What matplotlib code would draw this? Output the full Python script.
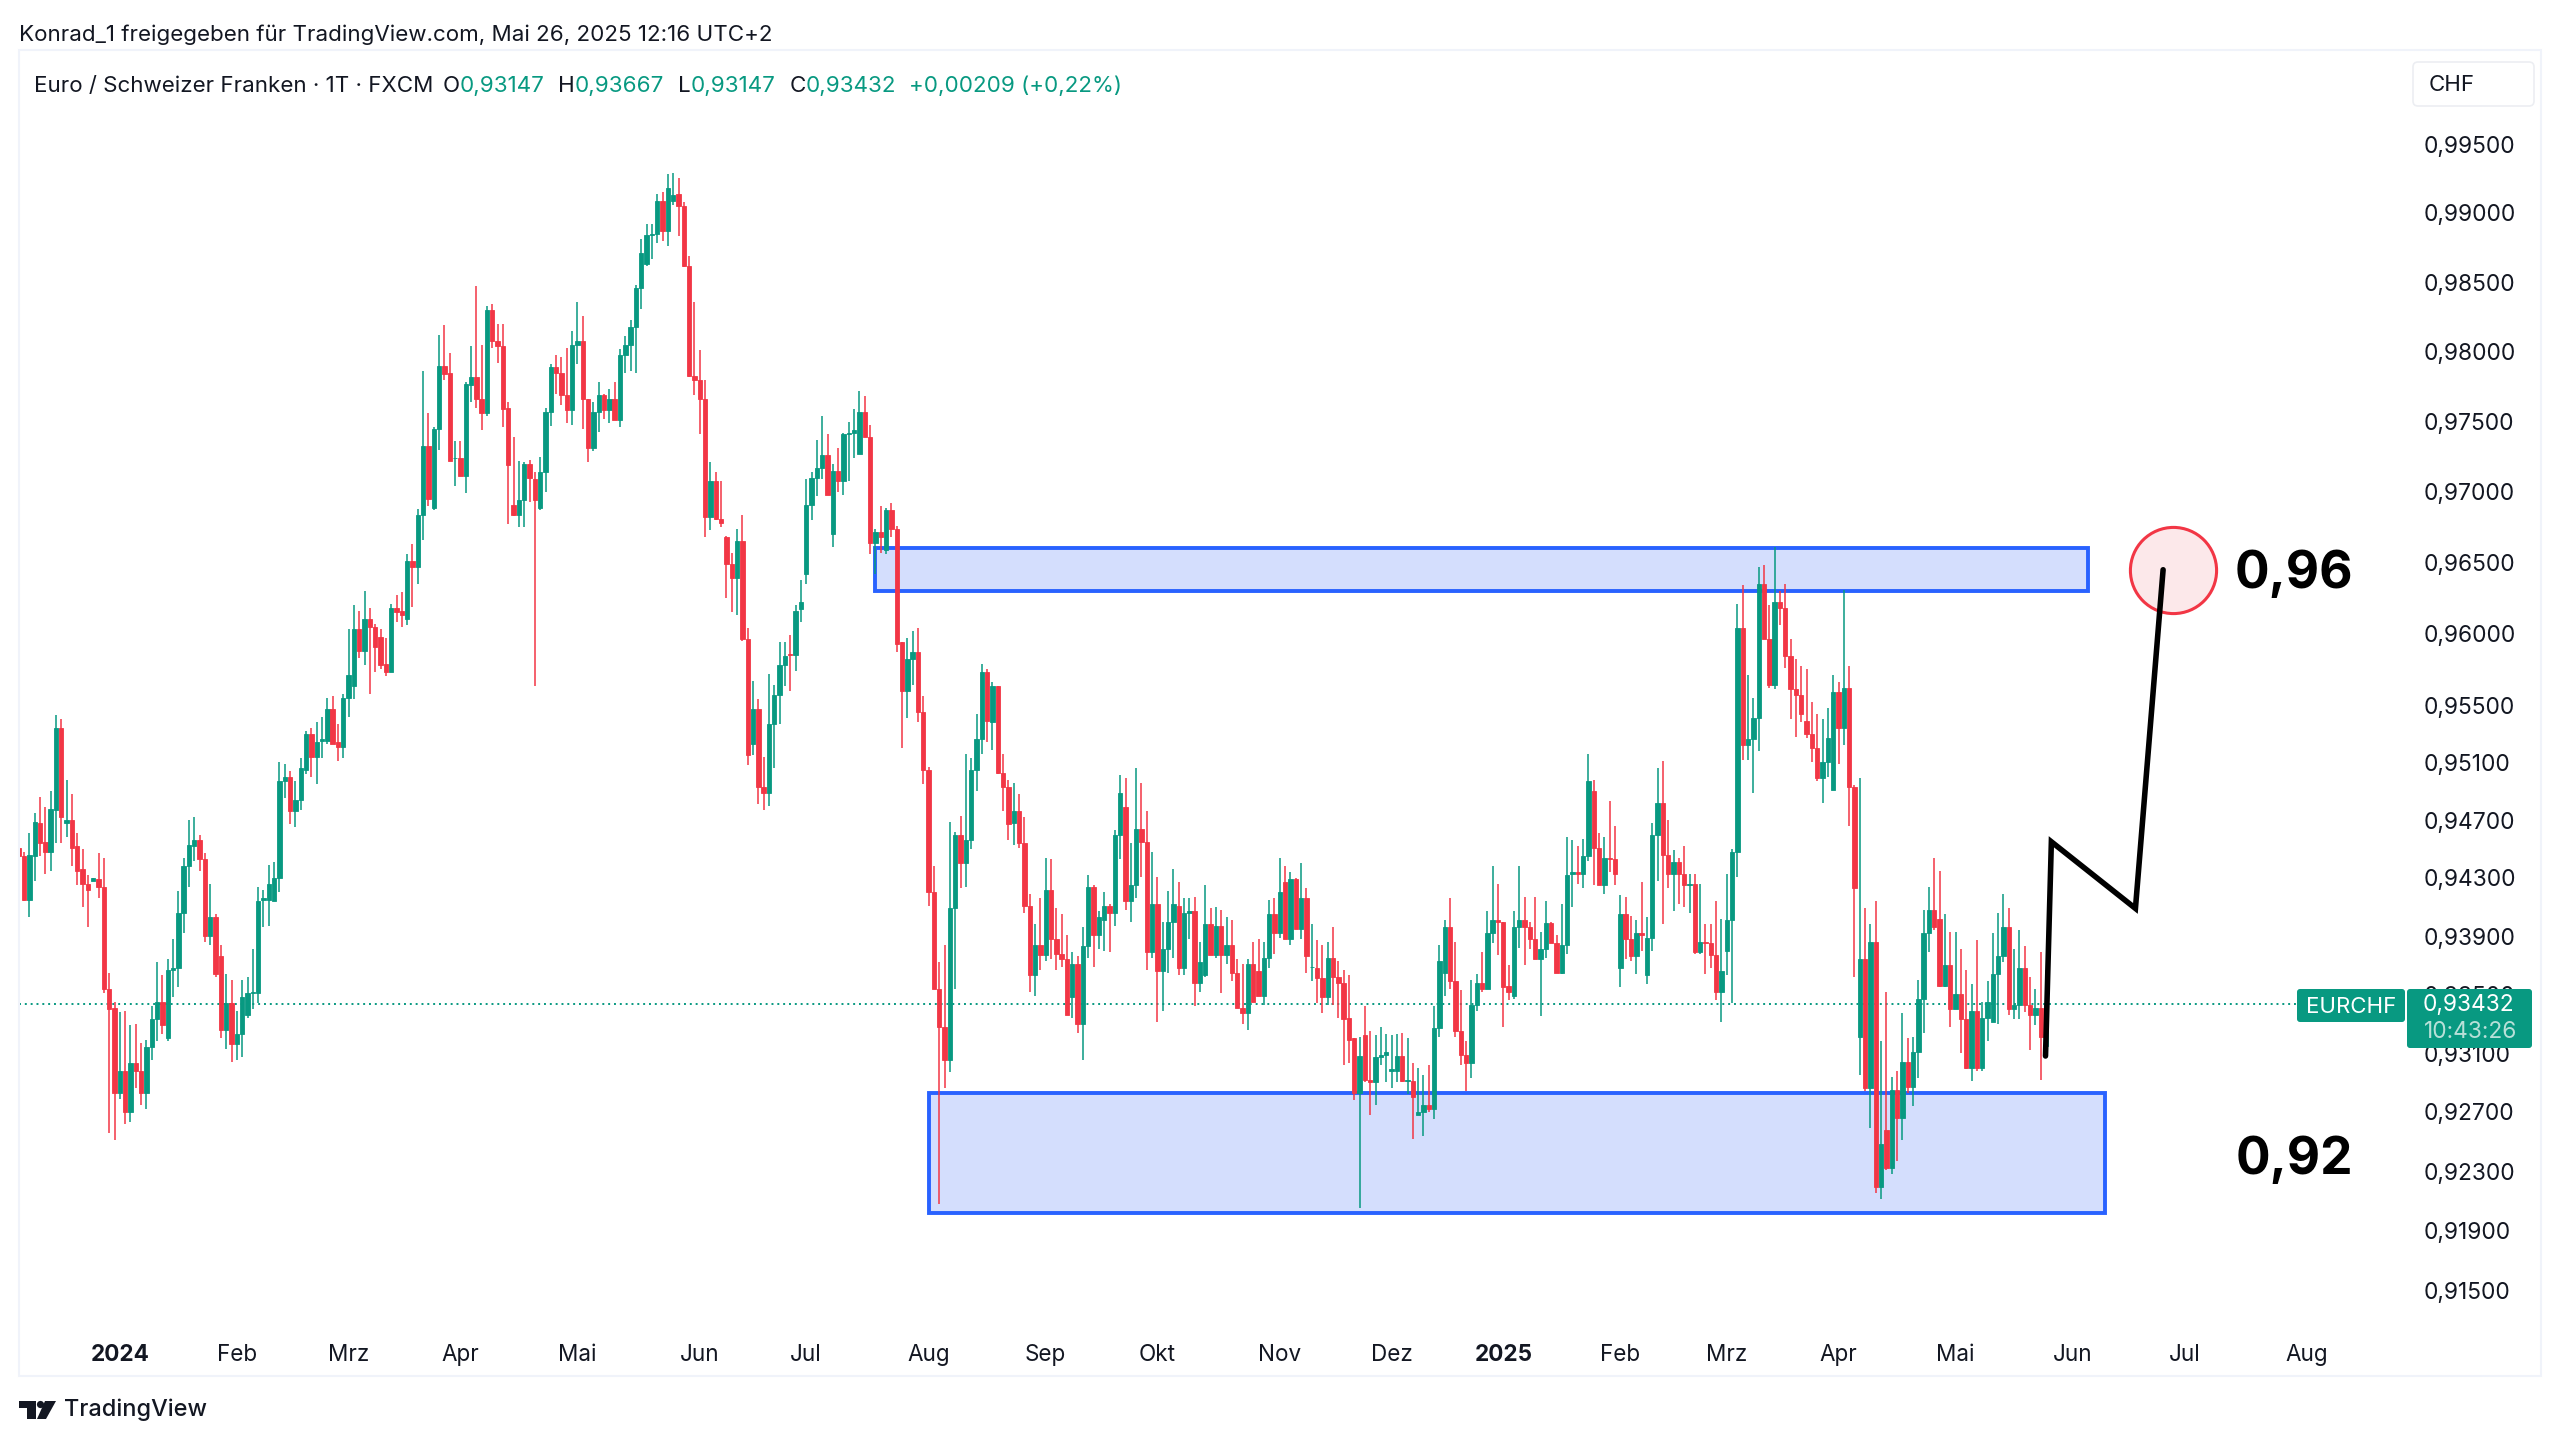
import numpy as np
import matplotlib
matplotlib.use('Agg')
import matplotlib.pyplot as plt
from matplotlib.patches import FancyBboxPatch, Rectangle, Polygon, Circle
from matplotlib.transforms import IdentityTransform

# daily bars as (open, high, low, close) in 1/10000 CHF
bars_dez_feb = [
(9451,9455,9433,9445),(9445,9448,9414,9415),(9415,9461,9403,9446),(9445,9475,9428,9469),(9468,9486,9445,9454),
(9455,9479,9433,9448),(9448,9490,9435,9478),(9477,9543,9454,9534),(9534,9540,9454,9472),(9468,9498,9458,9470),
(9470,9488,9438,9451),(9452,9461,9425,9435),(9436,9450,9410,9426),(9426,9432,9396,9422),(9428,9430,9428,9430),
(9429,9447,9416,9424),(9424,9444,9351,9354),(9354,9365,9256,9340),(9341,9345,9251,9283),(9283,9338,9279,9298),
(9298,9339,9262,9270),(9270,9329,9263,9303),(9303,9330,9286,9298),(9298,9317,9275,9283),(9283,9319,9272,9314),
(9314,9342,9305,9333),(9333,9372,9318,9345),(9345,9363,9323,9329),(9320,9374,9318,9367),(9367,9388,9348,9368),
(9368,9421,9355,9406),(9406,9444,9392,9438),(9438,9470,9424,9453),(9452,9472,9442,9456),(9456,9460,9435,9443),
(9443,9447,9386,9390),(9390,9426,9384,9403),(9403,9405,9362,9364),(9376,9384,9320,9326),(9326,9364,9313,9344),
(9344,9360,9304,9316),(9316,9339,9305,9323),(9323,9360,9307,9348),(9336,9362,9334,9351),(9351,9381,9340,9352),
(9351,9424,9344,9414),(9415,9422,9396,9416),(9415,9439,9397,9426),(9414,9441,9414,9430),
]
bars_feb_apr = [
(9430,9510,9420,9497),(9497,9509,9485,9500),(9500,9504,9467,9476),(9476,9497,9465,9484),(9484,9513,9477,9506),
(9505,9532,9502,9530),(9530,9534,9500,9514),(9514,9538,9495,9524),(9525,9542,9513,9526),(9525,9555,9523,9547),
(9547,9556,9523,9523),(9524,9537,9511,9521),(9521,9558,9513,9555),(9555,9603,9542,9571),(9563,9620,9554,9603),
(9603,9616,9583,9588),(9588,9630,9578,9610),(9610,9618,9558,9605),(9605,9607,9573,9591),(9598,9603,9575,9578),
(9579,9597,9570,9573),(9573,9621,9573,9618),(9618,9627,9608,9615),(9616,9629,9605,9613),(9610,9656,9606,9651),
(9651,9663,9619,9647),(9647,9688,9635,9684),(9684,9786,9666,9733),(9733,9756,9690,9695),(9689,9746,9687,9745),
(9745,9812,9730,9790),(9790,9819,9780,9784),(9785,9799,9722,9722),(9724,9736,9704,9724),(9724,9736,9711,9711),
(9711,9778,9699,9777),(9776,9804,9764,9782),(9782,9847,9760,9766),(9766,9805,9744,9756),(9756,9833,9754,9830),
(9830,9834,9803,9808),(9808,9820,9792,9804),(9804,9820,9746,9759),(9760,9764,9677,9719),(9691,9739,9683,9684),
(9684,9722,9675,9694),(9694,9721,9675,9720),(9720,9723,9693,9710),
]
bars_apr_jun = [
(9709,9714,9563,9694),(9689,9725,9687,9714),(9714,9760,9700,9757),(9757,9791,9747,9789),(9789,9798,9770,9785),
(9785,9796,9762,9769),(9769,9803,9749,9758),(9758,9815,9748,9805),(9805,9836,9791,9808),(9808,9826,9745,9766),
(9766,9766,9721,9731),(9731,9764,9729,9757),(9757,9778,9743,9769),(9769,9770,9752,9758),(9758,9773,9749,9766),
(9766,9778,9751,9751),(9751,9802,9746,9798),(9798,9811,9785,9805),(9805,9823,9786,9818),(9818,9848,9785,9846),
(9846,9881,9831,9871),(9863,9892,9862,9884),(9884,9892,9867,9885),(9885,9914,9878,9909),(9909,9915,9880,9887),
(9887,9928,9876,9918),(9909,9929,9906,9913),(9914,9925,9883,9905),(9905,9908,9861,9862),(9862,9869,9782,9783),
(9783,9836,9769,9780),(9780,9801,9741,9766),(9766,9780,9668,9682),(9682,9721,9673,9708),(9708,9714,9680,9681),
(9681,9708,9675,9678),(9668,9669,9625,9649),(9649,9657,9615,9639),(9639,9674,9613,9665),(9665,9684,9595,9596),
(9596,9604,9508,9515),(9523,9567,9515,9547),(9547,9554,9481,9493),(9493,9514,9477,9489),(9489,9572,9480,9537),
(9537,9564,9506,9557),(9557,9594,9537,9578),(9578,9594,9563,9584),
]
bars_jun_aug = [
(9586,9599,9560,9585),(9585,9620,9574,9616),(9617,9638,9608,9622),(9642,9709,9635,9691),(9691,9714,9680,9710),
(9710,9737,9697,9717),(9717,9754,9709,9726),(9726,9741,9698,9698),(9670,9720,9661,9715),(9715,9731,9700,9708),
(9708,9742,9698,9741),(9741,9750,9708,9742),(9742,9759,9724,9744),(9727,9772,9727,9757),(9757,9768,9739,9739),
(9739,9748,9656,9664),(9664,9674,9642,9672),(9672,9690,9657,9668),(9659,9689,9656,9687),(9687,9692,9668,9674),
(9674,9676,9587,9593),(9594,9594,9520,9560),(9560,9597,9541,9582),(9582,9602,9564,9587),(9587,9604,9538,9545),
(9545,9556,9495,9505),(9505,9507,9411,9420),(9420,9438,9354,9354),(9354,9372,9208,9328),(9328,9384,9286,9305),
(9305,9469,9297,9409),(9409,9462,9354,9460),(9460,9473,9423,9440),(9440,9516,9424,9456),(9456,9513,9450,9505),
(9505,9544,9490,9526),(9526,9579,9516,9573),(9573,9575,9524,9539),(9538,9566,9519,9563),(9563,9563,9502,9503),
(9503,9516,9476,9493),(9493,9498,9456,9467),(9468,9496,9453,9476),(9476,9488,9451,9454),(9454,9472,9406,9411),
(9411,9419,9352,9363),(9363,9398,9349,9384),
]
bars_aug_okt = [
(9384,9416,9367,9377),(9377,9444,9373,9422),(9422,9443,9374,9388),(9388,9409,9367,9378),(9378,9405,9369,9374),
(9374,9391,9336,9336),(9348,9379,9334,9371),(9371,9376,9324,9330),(9330,9396,9305,9383),(9383,9432,9375,9424),
(9424,9425,9369,9391),(9391,9407,9381,9403),(9401,9420,9380,9411),(9411,9412,9379,9406),(9406,9463,9397,9460),
(9460,9501,9443,9489),(9479,9499,9408,9414),(9414,9454,9400,9425),(9425,9506,9416,9464),(9464,9496,9431,9455),
(9455,9476,9367,9379),(9379,9448,9375,9412),(9412,9431,9331,9366),(9366,9400,9339,9381),(9381,9421,9365,9400),
(9400,9436,9375,9412),(9411,9427,9363,9368),(9368,9416,9363,9406),(9406,9416,9388,9407),(9407,9417,9342,9358),
(9358,9386,9352,9372),(9363,9425,9362,9398),(9398,9409,9377,9377),(9377,9410,9375,9397),(9397,9408,9351,9377),
(9377,9403,9371,9384),(9384,9401,9359,9365),(9365,9374,9341,9341),(9341,9371,9330,9337),(9337,9374,9326,9371),
(9371,9386,9345,9345),(9366,9388,9349,9349),(9349,9386,9343,9375),(9375,9415,9368,9405),(9405,9416,9378,9392),
(9392,9444,9389,9420),(9427,9438,9388,9388),(9388,9434,9384,9429),(9429,9430,9395,9395),
]
bars_nov_jan = [
(9395,9440,9388,9416),(9416,9423,9365,9376),(9369,9398,9359,9369),(9368,9387,9344,9361),(9361,9384,9337,9348),
(9348,9386,9343,9375),(9375,9396,9343,9362),(9362,9373,9334,9358),(9358,9367,9302,9333),(9334,9363,9303,9319),
(9320,9320,9278,9283),(9283,9321,9205,9308),(9322,9342,9290,9292),(9292,9325,9268,9290),(9290,9322,9275,9307),
(9307,9328,9302,9309),(9309,9323,9290,9311),(9298,9322,9286,9299),(9298,9323,9290,9308),(9308,9324,9290,9291),
(9291,9320,9282,9292),(9291,9303,9252,9280),(9268,9300,9268,9270),(9270,9295,9254,9275),(9275,9302,9270,9272),
(9272,9342,9265,9327),(9327,9384,9321,9373),(9365,9401,9349,9396),(9396,9416,9354,9359),(9359,9386,9321,9325),
(9325,9353,9302,9309),(9309,9318,9284,9303),(9303,9360,9293,9343),(9343,9364,9339,9358),(9358,9379,9352,9354),
(9354,9407,9354,9392),(9392,9438,9385,9401),(9401,9426,9377,9400),(9400,9400,9328,9355),(9356,9370,9346,9352),
(9349,9407,9347,9396),(9396,9438,9382,9401),(9401,9417,9370,9396),(9396,9400,9381,9388),(9388,9417,9374,9374),
(9374,9393,9335,9381),(9381,9414,9375,9399),(9399,9400,9385,9385),
]
bars_jan_mrz = [
(9385,9391,9365,9365),(9365,9412,9364,9384),(9384,9458,9378,9432),(9433,9456,9410,9434),(9434,9452,9426,9433),
(9433,9457,9423,9445),(9445,9516,9442,9497),(9490,9498,9425,9451),(9451,9461,9425,9425),(9425,9458,9419,9444),
(9444,9483,9434,9443),(9443,9466,9425,9433),(9368,9418,9355,9405),(9405,9417,9374,9388),(9388,9404,9373,9376),
(9376,9401,9364,9392),(9392,9427,9380,9391),(9363,9403,9357,9389),(9389,9468,9380,9460),(9460,9506,9428,9482),
(9482,9511,9398,9446),(9446,9470,9423,9433),(9433,9449,9407,9441),(9441,9444,9412,9433),(9433,9452,9410,9425),
(9425,9433,9406,9426),(9426,9433,9378,9379),(9379,9426,9378,9386),(9386,9398,9364,9385),(9385,9398,9368,9377),
(9377,9414,9346,9352),(9352,9402,9331,9366),(9380,9433,9363,9401),(9401,9450,9344,9448),(9448,9621,9431,9604),
(9604,9634,9512,9522),(9522,9571,9512,9526),(9526,9555,9489,9541),(9541,9647,9518,9635),(9635,9648,9596,9596),
(9596,9620,9562,9564),(9564,9661,9561,9622),(9622,9630,9606,9618),(9618,9635,9576,9584),(9584,9596,9540,9561),
(9561,9582,9528,9557),(9557,9577,9538,9544),
]
bars_mrz_mai = [
(9539,9575,9527,9530),(9530,9552,9510,9520),(9520,9544,9497,9499),(9499,9540,9482,9510),(9510,9548,9500,9527),
(9491,9571,9491,9559),(9559,9566,9509,9534),(9534,9631,9522,9562),(9562,9577,9466,9493),(9493,9494,9362,9423),
(9321,9499,9295,9374),(9374,9409,9284,9286),(9286,9398,9259,9386),(9386,9414,9215,9219),(9219,9318,9211,9248),
(9258,9352,9231,9232),(9232,9294,9228,9285),(9285,9298,9237,9266),(9266,9337,9251,9304),(9304,9320,9283,9287),
(9287,9321,9274,9311),(9311,9360,9293,9347),(9347,9408,9324,9392),(9392,9424,9379,9408),(9408,9444,9394,9396),
(9402,9435,9355,9356),(9356,9405,9355,9370),(9370,9393,9328,9340),(9340,9393,9340,9350),(9350,9381,9310,9333),
(9333,9367,9299,9300),(9300,9357,9291,9339),(9339,9387,9298,9300),(9300,9345,9298,9334),(9334,9359,9318,9345),
(9331,9392,9331,9364),(9364,9406,9330,9376),(9376,9419,9372,9396),(9396,9409,9336,9340),(9340,9381,9333,9343),
(9343,9394,9333,9368),(9368,9383,9338,9343),(9343,9362,9312,9336),(9336,9354,9329,9341),(9341,9379,9292,9321),
(9315,9367,9315,9343),
]

month_pos = [19, 41, 62, 83, 105, 128, 148, 171, 193, 214, 237, 258, 279, 301, 321, 342, 364, 386, 407, 430]
month_labels = ['2024', 'Feb', 'Mrz', 'Apr', 'Mai', 'Jun', 'Jul', 'Aug', 'Sep', 'Okt', 'Nov', 'Dez', '2025', 'Feb', 'Mrz', 'Apr', 'Mai', 'Jun', 'Jul', 'Aug']
price_ticks = [0.995, 0.99, 0.985, 0.98, 0.975, 0.97, 0.965, 0.96, 0.955, 0.951, 0.947, 0.943, 0.939, 0.935, 0.931, 0.927, 0.923, 0.919, 0.915]
last_price = 0.93432

# drawn zones and projected path
zone_top = (160.9, 388.9, 0.9630, 0.9660)
zone_bottom = (171.1, 392.0, 0.9202, 0.9283)
path_x = [380.9, 382.0, 397.8, 403.0]
path_y = [0.9308, 0.9455, 0.9409, 0.9645]
target_x, target_y = 404.9, 0.9645

GREEN = '#089981'
RED = '#f23645'
BLUE = '#2962ff'
INK = '#131722'
plt.rcParams['font.family'] = ['Inter', 'DejaVu Sans']

W, H = 2560, 1443
fig = plt.figure(figsize=(W / 100, H / 100), dpi=100, facecolor='white')

def fx(x):
    return x / W

def fy(y):
    return 1 - y / H

def label(x, y, s, **kw):
    kw.setdefault('color', INK)
    kw.setdefault('va', 'center')
    return fig.text(fx(x), fy(y), s, **kw)

def px_patch(p):
    p.set_transform(IdentityTransform())
    fig.add_artist(p)
    return p

# chart frame
px_patch(Rectangle((19, H - 1376), 2522, 1326, facecolor='none', edgecolor='#f0f3fa', lw=1.5, zorder=-1))

ax = fig.add_axes([fx(20), fy(1320), fx(2390), (1320 - 50) / H])
ax.patch.set_alpha(0)
ax.set_yscale('log')
ax.set_xlim(0.24, 449.4)
ax.set_ylim(0.9130, 1.00187)
for s in ax.spines.values():
    s.set_visible(False)

bars = np.array(bars_dez_feb + bars_feb_apr + bars_apr_jun + bars_jun_aug
                + bars_aug_okt + bars_nov_jan + bars_jan_mrz + bars_mrz_mai) / 10000
idx = np.arange(len(bars))
o, h, l, c = bars.T
up = c >= o

# zones under the candles
for x0, x1, y0, y1 in (zone_top, zone_bottom):
    ax.add_patch(Rectangle((x0, y0), x1 - x0, y1 - y0, facecolor='#d4defd', edgecolor=BLUE, lw=2.8, zorder=1))

ax.plot([0, 428.2], [last_price, last_price], color=GREEN, lw=1.4, ls=(0, (1, 2)), zorder=1.5)

colors = np.where(up, GREEN, RED)
ax.vlines(idx, l, h, colors=colors, lw=1.1, zorder=2)
ax.bar(idx, np.abs(c - o), bottom=np.minimum(o, c), width=0.82, color=colors, lw=0.6, edgecolor=colors, zorder=3)

ax.scatter([target_x], [target_y], s=3850, facecolor='#fce8ea', edgecolor=RED, lw=2.2, zorder=4)
ax.plot(path_x, path_y, color='black', lw=4, solid_capstyle='round', solid_joinstyle='miter', zorder=5)

# axis labels
ax.set_xticks(month_pos)
ax.set_xticklabels(month_labels, fontsize=16.2, color=INK)
for t, s in zip(ax.get_xticklabels(), month_labels):
    if s.startswith('20'):
        t.set_fontweight('bold')
ax.tick_params(axis='x', length=0, pad=17)
ax.yaxis.tick_right()
ax.minorticks_off()
ax.set_yticks(price_ticks)
ax.set_yticklabels([f'{p:.5f}'.replace('.', ',') for p in price_ticks], fontsize=16.4, color=INK)
ax.tick_params(axis='y', length=0, pad=9.5, which='both')

# header
label(19, 34.5, 'Konrad_1 freigegeben für TradingView.com, Mai 26, 2025 12:16 UTC+2', fontsize=16.1)
label(34, 86, 'Euro / Schweizer Franken · 1T · FXCM', fontsize=16.1)
for x, s, col in [(443, 'O', INK), (460, '0,93147', GREEN), (558, 'H', INK), (575, '0,93667', GREEN),
                  (678, 'L', INK), (691, '0,93147', GREEN), (790, 'C', INK), (806, '0,93432', GREEN),
                  (909, '+0,00209 (+0,22%)', GREEN)]:
    label(x, 86, s, color=col, fontsize=16.1)

# big levels
label(2294, 574, '0,96', ha='center', fontsize=37, fontweight='bold', color='black')
label(2294, 1161, '0,92', ha='center', fontsize=37, fontweight='bold', color='black')

# price scale badges
px_patch(FancyBboxPatch((2413, H - 106), 121, 44, boxstyle='round,pad=0,rounding_size=5', facecolor='white', edgecolor='#eceef2', lw=1.2, zorder=3))
label(2452, 85, 'CHF', ha='center', fontsize=16, zorder=4)
px_patch(FancyBboxPatch((2297, H - 1022), 108, 33, boxstyle='round,pad=0,rounding_size=3', facecolor=GREEN, edgecolor='none', zorder=6))
px_patch(FancyBboxPatch((2407, H - 1048), 125, 59, boxstyle='round,pad=0,rounding_size=3', facecolor=GREEN, edgecolor='none', zorder=6))
label(2351, 1007, 'EURCHF', ha='center', color='white', fontsize=16, zorder=7)
label(2423, 1005, '0,93432', color='white', fontsize=16.4, zorder=7)
label(2424, 1032, '10:43:26', color='#b8e0d8', fontsize=16.4, zorder=7)

# footer logo
px_patch(Polygon([(19, 1443 - 1401), (36, 1443 - 1401), (36, 1443 - 1419), (27, 1443 - 1419), (27, 1443 - 1408), (19, 1443 - 1408)], facecolor=INK, edgecolor='none', zorder=3))
px_patch(Circle((40.5, 1443 - 1404.5), 3.6, facecolor=INK, edgecolor='none', zorder=3))
px_patch(Polygon([(45, 1443 - 1401), (56, 1443 - 1401), (46, 1443 - 1419), (37, 1443 - 1419)], facecolor=INK, edgecolor='none', zorder=3))
label(64, 1410, 'TradingView', fontsize=16.9, fontweight='medium')

fig.savefig('out.png', dpi=100)
